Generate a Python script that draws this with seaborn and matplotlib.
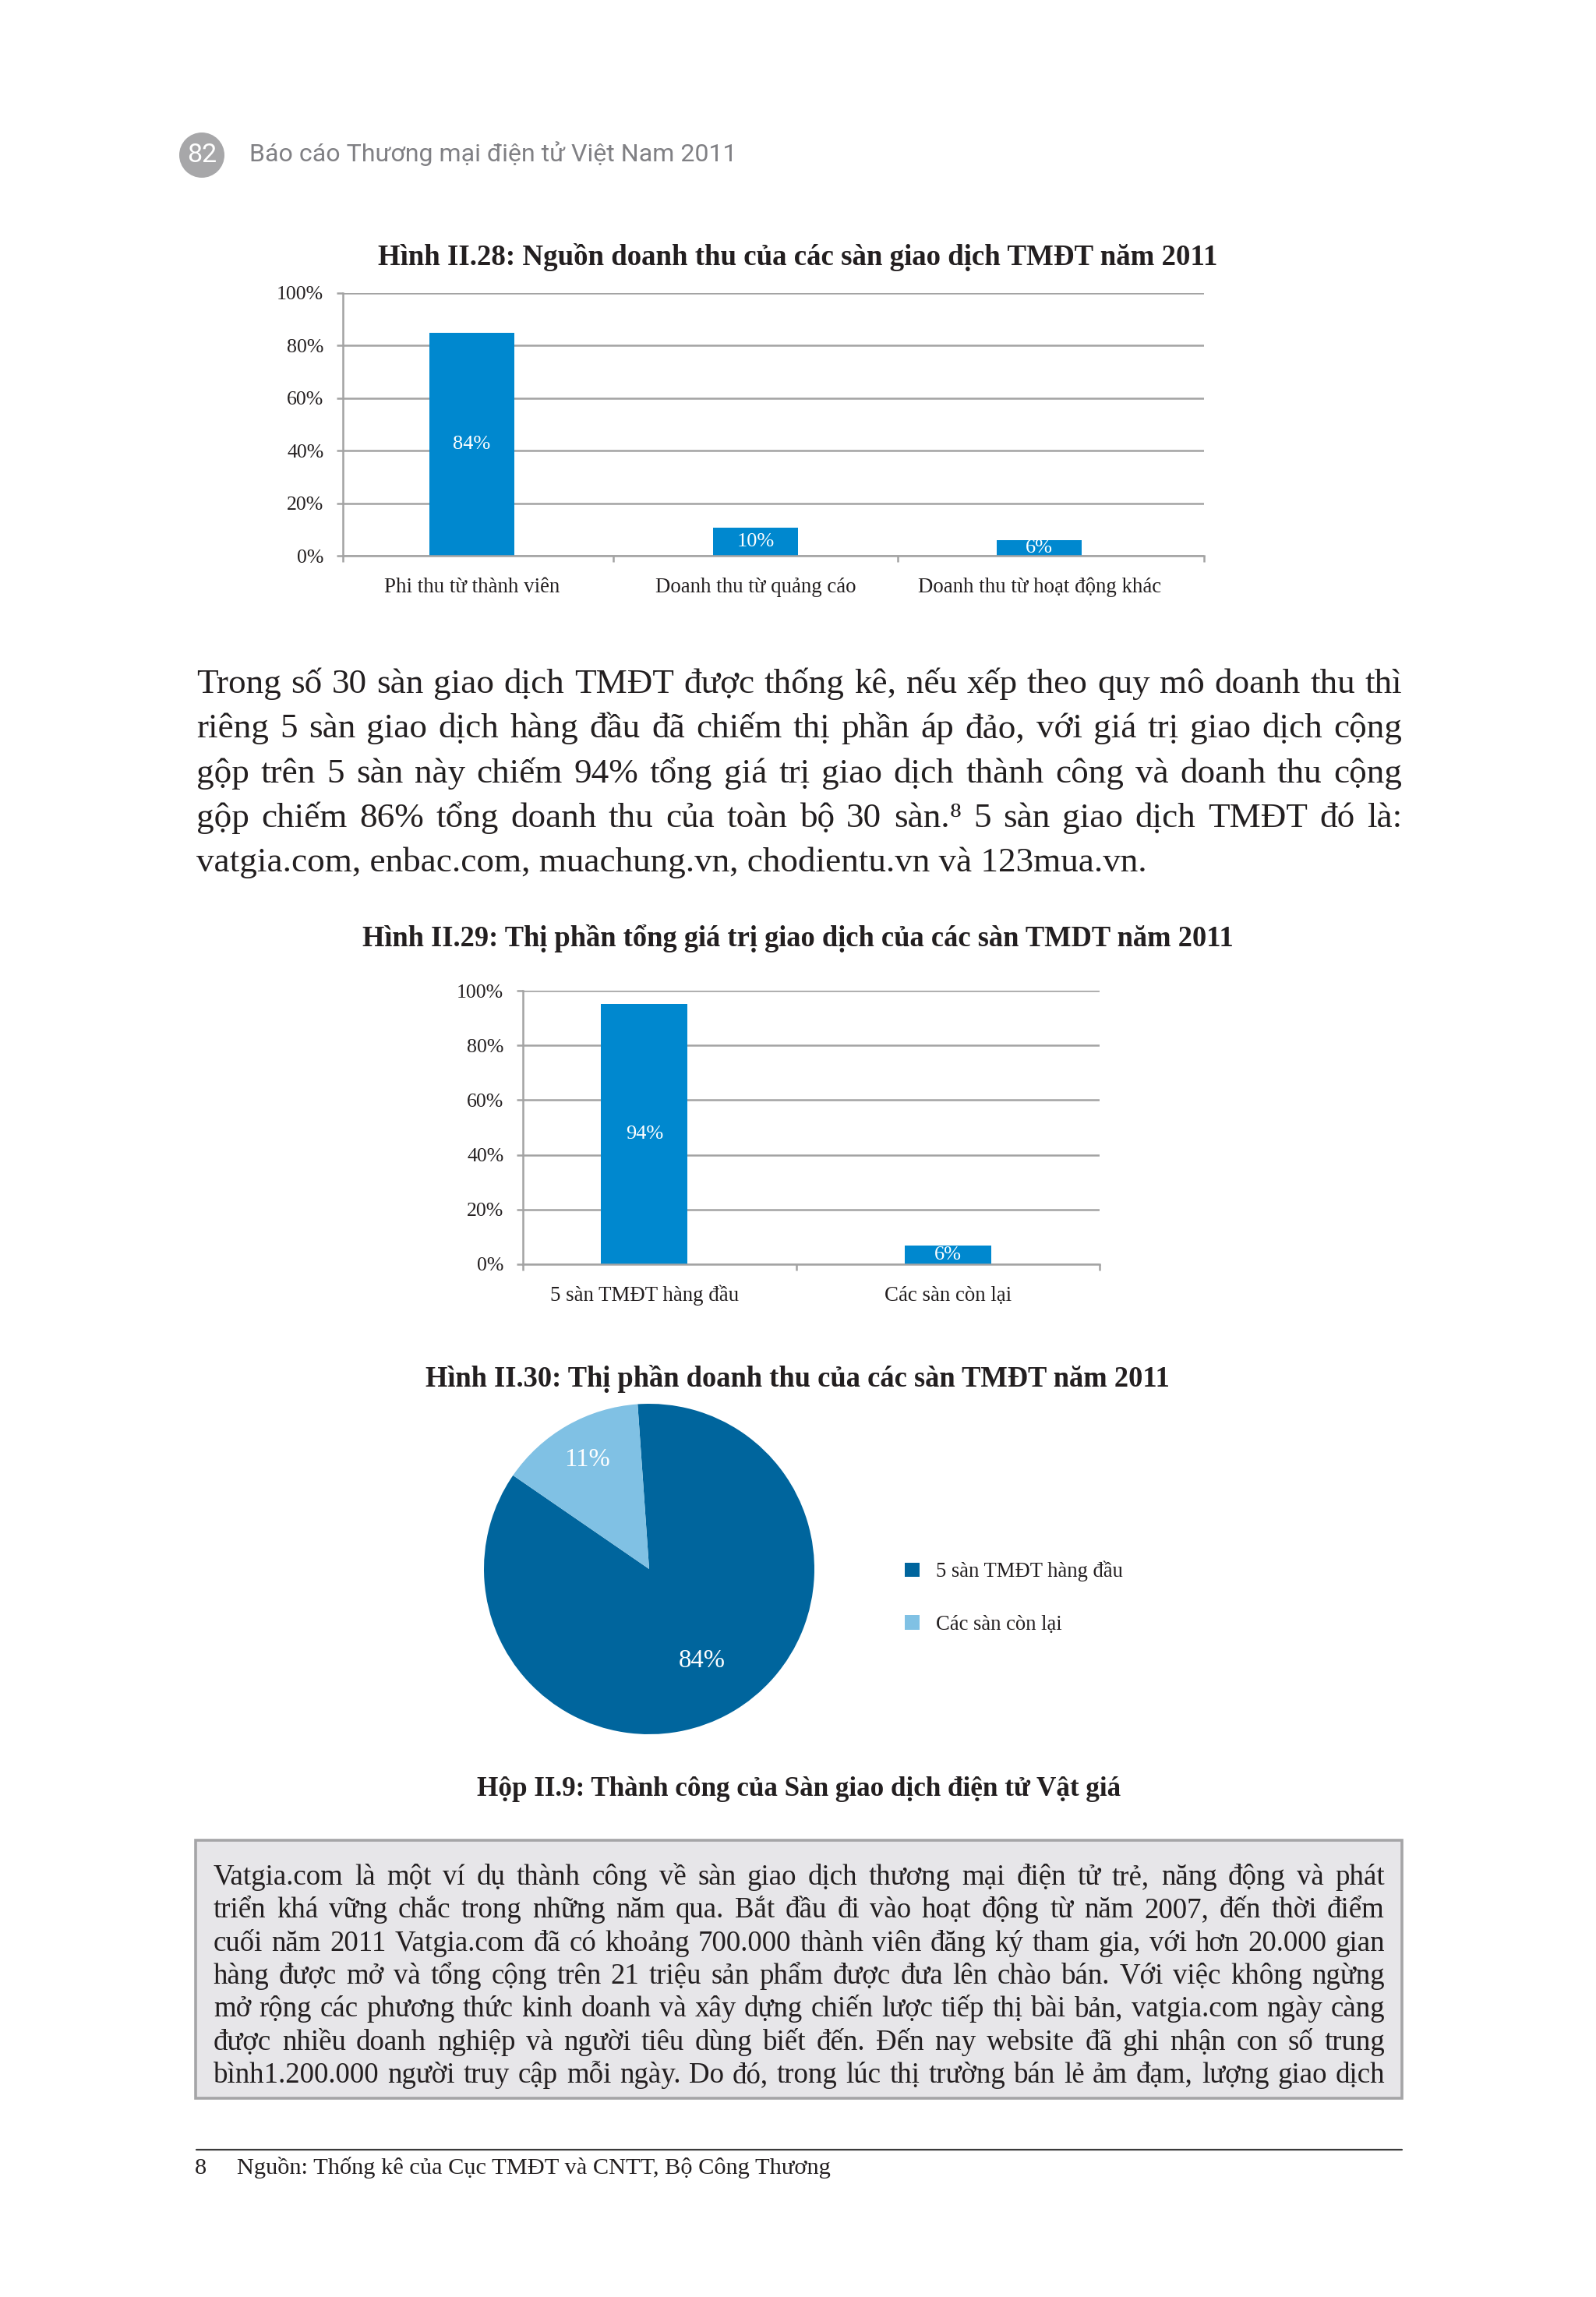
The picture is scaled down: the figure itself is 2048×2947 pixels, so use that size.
import numpy as np
import pandas as pd
import matplotlib
matplotlib.use("Agg")
import matplotlib.pyplot as plt
import seaborn as sns
from matplotlib.patches import Ellipse, Rectangle
from matplotlib.lines import Line2D

# ---------------- data ----------------
page_number = "82"
header_text = "Báo cáo Thương mại điện tử Việt Nam 2011"

title_rev = "Hình II.28: Nguồn doanh thu của các sàn giao dịch TMĐT năm 2011"
rev_categories = ["Phi thu từ thành viên", "Doanh thu từ quảng cáo", "Doanh thu từ hoạt động khác"]
rev_values = [85.0, 10.8, 5.9]
rev_labels = ["84%", "10%", "6%"]

title_gmv = "Hình II.29: Thị phần tổng giá trị giao dịch của các sàn TMDT năm 2011"
gmv_categories = ["5 sàn TMĐT hàng đầu", "Các sàn còn lại"]
gmv_values = [95.2, 6.7]
gmv_labels = ["94%", "6%"]

title_share = "Hình II.30: Thị phần doanh thu của các sàn TMĐT năm 2011"
share_categories = ["5 sàn TMĐT hàng đầu", "Các sàn còn lại"]
share_values = [85.7, 14.3]
share_labels = ["84%", "11%"]

ytick_values = [0, 20, 40, 60, 80, 100]
ytick_labels = ["0%", "20%", "40%", "60%", "80%", "100%"]

paragraph_lines = [
    "Trong số 30 sàn giao dịch TMĐT được thống kê, nếu xếp theo quy mô doanh thu thì",
    "riêng 5 sàn giao dịch hàng đầu đã chiếm thị phần áp đảo, với giá trị giao dịch cộng",
    "gộp trên 5 sàn này chiếm 94% tổng giá trị giao dịch thành công và doanh thu cộng",
    "gộp chiếm 86% tổng doanh thu của toàn bộ 30 sàn.⁸ 5 sàn giao dịch TMĐT đó là:",
    "vatgia.com, enbac.com, muachung.vn, chodientu.vn và 123mua.vn.",
]

box_title = "Hộp II.9: Thành công của Sàn giao dịch điện tử Vật giá"
box_lines = [
    "Vatgia.com là một ví dụ thành công về sàn giao dịch thương mại điện tử trẻ, năng động và phát",
    "triển khá vững chắc trong những năm qua. Bắt đầu đi vào hoạt động từ năm 2007, đến thời điểm",
    "cuối năm 2011 Vatgia.com đã có khoảng 700.000 thành viên đăng ký tham gia, với hơn 20.000 gian",
    "hàng được mở và tổng cộng trên 21 triệu sản phẩm được đưa lên chào bán. Với việc không ngừng",
    "mở rộng các phương thức kinh doanh và xây dựng chiến lược tiếp thị bài bản, vatgia.com ngày càng",
    "được nhiều doanh nghiệp và người tiêu dùng biết đến. Đến nay website đã ghi nhận con số trung",
    "bình1.200.000 người truy cập mỗi ngày. Do đó, trong lúc thị trường bán lẻ ảm đạm, lượng giao dịch",
]

footnote_number = "8"
footnote_text = "Nguồn: Thống kê của Cục TMĐT và CNTT, Bộ Công Thương"

# ---------------- style ----------------
W, H, DPI = 2048, 2947, 200
BAR = "#0088CF"
DARK = "#00659D"
LIGHT = "#80C1E4"
GRID = "#A3A3A3"
TXT = "#231F20"

sns.set_theme(style="white")
SERIF = ["Liberation Serif", "DejaVu Serif"]
SANS = ["Roboto", "Open Sans", "DejaVu Sans"]
plt.rcParams["font.family"] = SERIF

fig = plt.figure(figsize=(W / DPI, H / DPI), dpi=DPI)
fig.patch.set_facecolor("white")
renderer = fig.canvas.get_renderer()


def fx(x):
    return x / W


def fy(y):
    return 1 - y / H


def text_width(s, size, family=SERIF, weight="normal"):
    t = fig.text(0, 0, s, fontsize=size, family=family, weight=weight)
    w = t.get_window_extent(renderer).width
    t.remove()
    return w


def fit_size(s, target, family=SERIF, weight="normal", base=10.0):
    return base * target / text_width(s, base, family, weight)


def put(x, y, s, size, ha="left", va="baseline", family=SERIF, weight="normal", color=TXT):
    return fig.text(fx(x), fy(y), s, fontsize=size, ha=ha, va=va,
                    family=family, weight=weight, color=color)


def justified(lines, x0, x1, y0, dy, size, last_left=True):
    for i, line in enumerate(lines):
        y = y0 + i * dy
        words = line.split(" ")
        if (last_left and i == len(lines) - 1) or len(words) == 1:
            put(x0, y, line, size)
            continue
        widths = [text_width(w, size) for w in words]
        gap = (x1 - x0 - sum(widths)) / (len(words) - 1)
        x = x0
        for w, wd in zip(words, widths):
            put(x, y, w, size)
            x += wd + gap


# ---------------- header ----------------
fig.add_artist(Ellipse((fx(259), fy(199)), 2 * 29 / W, 2 * 29 / H,
                       transform=fig.transFigure, color="#A7A7A9", lw=0))
put(259, 199, page_number, fit_size(page_number, 38, SANS), ha="center", va="center",
    family=SANS, color="white")
put(320, 207, header_text, fit_size(header_text, 624, SANS), family=SANS, color="#808084")


# ---------------- bar charts ----------------
def bar_chart(l, t, r, b, cats, vals, labels, xlim, width):
    ax = fig.add_axes([fx(l), fy(b), (r - l) / W, (b - t) / H])
    df = pd.DataFrame({"cat": cats, "val": vals})
    sns.barplot(data=df, x="cat", y="val", color=BAR, saturation=1,
                width=width, ax=ax, edgecolor="none")
    ax.set_xlim(*xlim)
    ax.set_ylim(0, 100)
    ax.set_xlabel("")
    ax.set_ylabel("")
    ax.set_yticks(ytick_values)
    ax.set_yticklabels(ytick_labels)
    ax.yaxis.grid(True, color=GRID, lw=0.9)
    ax.xaxis.grid(False)
    ax.set_axisbelow(True)
    n = len(cats)
    bounds = [xlim[0]] + [i + 0.5 for i in range(n - 1)] + [xlim[1]]
    ax.set_xticks(bounds)
    ax.set_xticklabels([""] * len(bounds))
    ax.tick_params(axis="x", which="major", bottom=True, length=2.9, width=0.9,
                   color=GRID, labelbottom=False)
    ax.tick_params(axis="y", left=True, length=2.9, width=0.9, color=GRID,
                   pad=6, labelsize=9.3, labelcolor=TXT)
    for side in ["top", "right"]:
        ax.spines[side].set_visible(False)
    for side in ["left", "bottom"]:
        ax.spines[side].set_color(GRID)
        ax.spines[side].set_linewidth(0.9)
    ax.set_facecolor("white")
    off = -47.0 / (b - t)
    for i, c in enumerate(cats):
        ax.text(i, off, c, transform=ax.get_xaxis_transform(), ha="center",
                va="baseline", fontsize=9.7, color=TXT)
    ax.bar_label(ax.containers[0], labels=labels, label_type="center",
                 color="white", fontsize=9.5)
    return ax


put(1024, 340, title_rev, fit_size(title_rev, 1079, weight="bold"), ha="center", weight="bold")
bar_chart(440, 376, 1545, 713, rev_categories, rev_values, rev_labels, (-0.454, 2.58), 0.30)

# ---------------- paragraph ----------------
p_x0, p_x1 = 252, 1799
p_size = min(fit_size(s, 0.985 * (p_x1 - p_x0)) for s in paragraph_lines[:-1])
justified(paragraph_lines, p_x0, p_x1, 889, 57.3, p_size, last_left=True)

put(1024, 1214, title_gmv, fit_size(title_gmv, 1120, weight="bold"), ha="center", weight="bold")
bar_chart(671, 1271, 1411, 1622, gmv_categories, gmv_values, gmv_labels, (-0.4, 1.5), 0.285)

# ---------------- pie ----------------
put(1023, 1779, title_share, fit_size(title_share, 955, weight="bold"), ha="center", weight="bold")
axp = fig.add_axes([fx(621), fy(2225), 424 / W, 424 / H])
wedges, _ = axp.pie(share_values, colors=[DARK, LIGHT], startangle=94, counterclock=False,
                    wedgeprops={"linewidth": 0})
axp.set_xlim(-1, 1)
axp.set_ylim(-1, 1)
axp.set_aspect("equal")
for w, lab, dist in zip(wedges, share_labels, [0.64, 0.76]):
    ang = np.deg2rad((w.theta1 + w.theta2) / 2)
    axp.text(dist * np.cos(ang), dist * np.sin(ang), lab, ha="center", va="center",
             color="white", fontsize=11.8)
leg = axp.legend(wedges, share_categories, loc="center left",
                 bbox_to_anchor=(fx(1161), fy(2050)), bbox_transform=fig.transFigure,
                 frameon=False, fontsize=9.6, handlelength=0.7, handleheight=0.7,
                 handletextpad=0.8, labelspacing=1.6, borderpad=0, borderaxespad=0)
for t in leg.get_texts():
    t.set_color(TXT)

# ---------------- box ----------------
put(1025, 2304, box_title, fit_size(box_title, 828, weight="bold"), ha="center", weight="bold")
fig.add_artist(Rectangle((fx(251), fy(2692)), (1799 - 251) / W, (2692 - 2361) / H,
                         transform=fig.transFigure, facecolor="#E7E6E9",
                         edgecolor="#A5A5A7", lw=1.3))
b_x0, b_x1 = 274, 1777
b_size = min(fit_size(s, 0.985 * (b_x1 - b_x0)) for s in box_lines)
justified(box_lines, b_x0, b_x1, 2418, 42.3, b_size, last_left=False)

# ---------------- footer ----------------
fig.add_artist(Line2D([fx(252), fx(1799)], [fy(2758), fy(2758)], transform=fig.transFigure,
                      color="#3A3A3A", lw=0.8))
f_size = fit_size(footnote_text, 760)
put(250, 2789, footnote_number, f_size)
put(304, 2789, footnote_text, f_size)

fig.savefig("out.png", dpi=DPI, facecolor="white")
